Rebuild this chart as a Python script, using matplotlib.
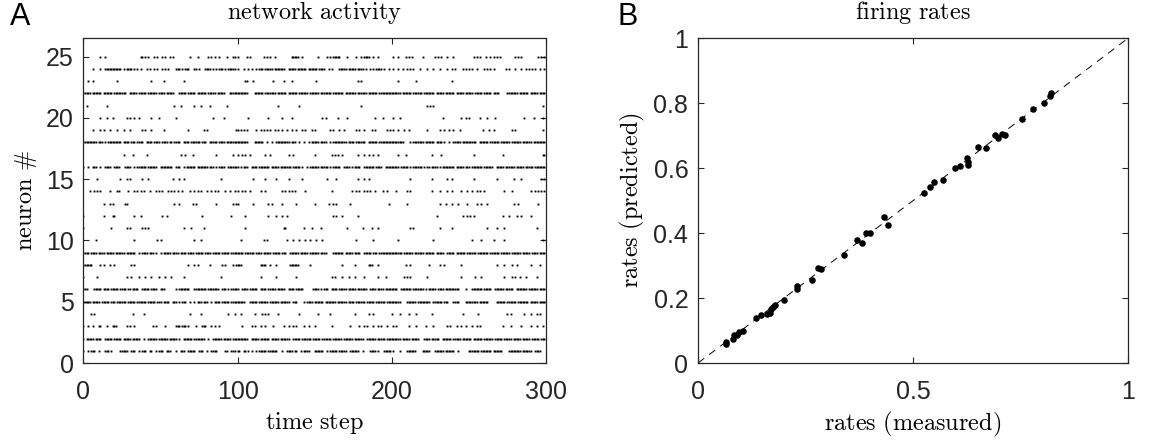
import matplotlib
matplotlib.use("Agg")
import matplotlib.pyplot as plt

plt.rcParams['mathtext.fontset'] = 'cm'
plt.rcParams['font.family'] = ['Liberation Sans', 'DejaVu Sans']
plt.rcParams['lines.scale_dashes'] = False

# ---------------- data ----------------
# spike times (time steps) for neurons 1..25, "a-b" = consecutive spikes
spikes_n01 = "0 3 5-7 10 14-16 18 24-28 31-33 36 38-40 43-44 47 49-51 54-56 60 63-65 68-72 75-77 80 83-86 92-93 96-98 100-101 104-105 107 109 112 114-118 120-125 129 132-135 137-138 141 143-146 150-155 158 160-164 166-170 173-178 181 186-189 191 195-199 201 205 210-215 220-224 228-233 235-240 243 250-256 258-264 266-271 276-283 285-290 293-296"
spikes_n02 = "0 2-6 8-11 14-18 20-24 26-30 32-36 39 42-47 49-54 56-60 62 65-70 72-78 81 84-89 91-95 97-99 100-106 109-113 115-120 122-126 128-133 136-140 142-147 149-153 155-160 162-167 169-174 176-181 184-189 191-195 197-199 200-205 207-211 213-217 221-224 226-230 233-238 240-244 246-251 253-258 260-265 267-271 273-277 279-283 285-289 291-295 297-299"
spikes_n03 = "0 3 6 10 11 15 19-21 28 30 33 45 47 53 60-62 64-66 68 73 77-79 83 85 88 103 109 111 115 118 123 130 133 136 138 143 146 150 161 173 179 182 184 188 191 193 197 201 203 211 216 222 227 236 238 242 245 248 252 255 257 272 277 284 290 294 298"
spikes_n04 = "5 7 32 39 69 76 94 98 102 111 116 118 120 126 140 152 160 176 185 188 200 205 211 216 226 246 256 275 277 286 290 294 296"
spikes_n05 = "0-4 6-10 12-16 18-20 22-27 29-33 35-40 42-46 48-50 52-55 58-60 62 64-66 69 72 74-76 78-80 83 85-88 90-94 96-99 100-104 108-112 114-119 121-126 128-133 136-138 143 145-148 150-155 157-163 165-170 172-175 177-182 184-188 190-195 197-199 200-205 210-215 217-224 227-232 234-236 240-243 248-255 257-262 268-273 275-280 282-288 290-294 296-299"
spikes_n06 = "0-2 7-11 13-16 18-22 24-27 29-30 32-35 38-42 44-47 50-52 60 62-68 72-79 81-87 90-92 94 96-99 100 103-106 108-112 115-118 120-124 126-130 133-136 138-142 149-152 154 156-158 161-164 166-170 172-176 178-183 186-189 191-194 196-199 200-203 206-212 214-220 222 224-228 230-233 235-243 248 252-258 260-264 267-272 274-278 281-287 289-294 296-299"
spikes_n07 = "0 9 28 31 36 40 44 49 53 57 65 89 115 125 138 161 163 168 172 176 182 191 196 208 210 212 223 245 254 258 273 278 280 283 287 294"
spikes_n08 = "0-5 11 13 17 20 31 33 68 72 74 82 90 92 97 99 100-102 115-118 121 125 134-139 147 168 176 185-187 191 209 212 224 231 234 245 268 273 278 281 290 296"
spikes_n09 = "0-3 5-8 10-13 15-19 21-26 28-33 36 38-41 43-45 47 50 52-56 58-61 63-66 68-71 73-77 79-82 84-88 90-94 96-99 100-103 105-110 112-115 117-121 123-127 129-131 134-139 141-145 147-152 154-157 162-168 170-174 176-179 182-186 188-190 192-199 200-206 208-213 215-220 222-227 229-233 236-240 242-247 249-254 256-262 264-269 271-276 278-283 285-289 291-294 296-299"
spikes_n10 = "8 33 48 50 72 76 102 117 119 132 136 140 144 147 151 155 177 188 204 227 252 258 266 273 298"
spikes_n11 = "0 18 28 30 38 40 42 65 70 78 105 130 131 143 148 154 171 181 187 191 212 214 231 239 262 268 273 294"
spikes_n12 = "0 13 19 20 33 37 51 54 77 96 105 120 125 129 132 162 164 168 178 229 246 249 251 253 272 276 281 284 290"
spikes_n13 = "13 17 19 27 28 59 62 71 73 86 97 99 100 110 120 122 129 138 150 159 162 164 173 198 210 231 235 239 243 249 255 258 262 279 282 295"
spikes_n14 = "4 7 9 11 17 22 23 29 33 35 37 39 43 47 49 51 55 57 59 61 64 69 72 74 76 80 83 85 87 92 95 98 100 103 105 108 115 118 129 131 133 135 137 144 161 174 177 179 182 184 186 189 194 197 203 210 212 226 231 236 239 245 249 252 255 257 260 273 278 290 293 295 297 299"
spikes_n15 = "9 24 28 30 38 42 58 62 65 89 110 118 125 133 142 158 164 178 182 185 212 226 236 239 253 268 279 284 297 299"
spikes_n16 = "0 3 6-8 11 14-17 20-23 27-30 33 35-40 42-47 50-57 60-62 65 67-72 74-80 82-84 86 88-91 94-99 100 102 104-106 109-112 114-120 122-126 128-134 136-140 142 145 147-152 154-158 160 162-166 169-172 174 176-179 182-188 190-193 196-199 200-204 206-210 212 214-219 221 223-224 226-229 231 233-240 242-246 248-250 252-258 260-265 268-272 274-279 281-285 287-291 293-299"
spikes_n17 = "26 32 41 63 66 71 86 97 100 103 105 108 118 121 133 136 150 161 163 165 168 178 182 185 188 191 204 209 226 232 253 272 298 299"
spikes_n18 = "0-8 10-12 14 16-24 26-29 31-33 35-38 41-44 46-49 51-54 56-57 59-62 65-68 70-75 77-79 82-86 88-91 93-99 100-106 111-116 119 122 125-133 135-137 140 143 146 148-152 154-157 160 162-170 172-175 177-182 185-190 192-199 200-207 212 214-220 222-227 229-232 234 237 240-244 246-254 257-262 264-269 271-276 278-283 285-290 292-299"
spikes_n19 = "6 11 13 17 22 26 30 38 40 44 52 68 78 80 99 100 102 104 106 112 115 117 119 121 124 126 129 132 135 138 142 144 148 150 160 162 166 169 177 179 182 187 189 197 199 201 204 208 211 223 231 234 237 240 244 259 263 266 278 280 298"
spikes_n20 = "11 15 19 28 30 33 36 44 49 60 84 91 107 120 129 135 155 157 165 171 189 194 201 205 233 245 248 250 257 262 267 286 292 298"
spikes_n21 = "2 15 59 63 72 76 82 93 126 140 180 223 225 227 298"
spikes_n22 = "0-4 6-11 13-18 20-27 30-34 36-40 42-47 49-52 54-58 62-66 68-72 74-79 81-85 87-91 95-99 100-106 111-116 118-124 126-131 133-138 140-145 147-152 154-160 162-168 170-176 178-183 185-190 192-199 200-205 207-212 214-219 221-227 229-233 235-240 242-246 248-252 254-258 260-264 266-269 275-281 283-288 290-294 296-299"
spikes_n23 = "3 6 22 44 52 65 105 106 110 123 130 135 151 178 180 204 216 239"
spikes_n24 = "6 11 14-24 26 28-31 33 35 37 41 43 46 48 51 53 55 60-62 64 66-68 72-73 75 79-82 84 86 88-90 92 94-98 100 104 107 109 112 114-116 118-122 124-130 133-137 139-144 146-151 153-156 159 161 166-170 172-176 178-181 183 186 188 190-193 195 198 201 204 207 210 212 214 218 223 227 231 236 239 241 246 248 250 252 255 260 262 264 266 274 276 280 284 287 289 291 293 296 299"
spikes_n25 = "11 14 37 38 40 42 46 48 51 53 56 58 69 74 81 83 85 88 93 97 98 100 106 108 117 119 121 124 135-139 142 152 158 160 162-166 171 177 180 182-185 188 191 201 204 209 211 213 220 228 230 232 236 240 253 255 257 261 264 266 268 270 280 282 284 295 297 299"

spike_rows = [spikes_n01, spikes_n02, spikes_n03, spikes_n04, spikes_n05,
              spikes_n06, spikes_n07, spikes_n08, spikes_n09, spikes_n10,
              spikes_n11, spikes_n12, spikes_n13, spikes_n14, spikes_n15,
              spikes_n16, spikes_n17, spikes_n18, spikes_n19, spikes_n20,
              spikes_n21, spikes_n22, spikes_n23, spikes_n24, spikes_n25]

rates_measured = [0.064, 0.066, 0.081, 0.084, 0.090, 0.095, 0.105, 0.135, 0.147, 0.161,
                  0.168, 0.170, 0.174, 0.179, 0.199, 0.229, 0.231, 0.264, 0.280, 0.287,
                  0.339, 0.370, 0.381, 0.390, 0.400, 0.433, 0.441, 0.526, 0.539, 0.548,
                  0.569, 0.598, 0.610, 0.626, 0.627, 0.628, 0.652, 0.669, 0.690, 0.698,
                  0.706, 0.713, 0.754, 0.780, 0.804, 0.818, 0.822]
rates_predicted = [0.066, 0.059, 0.073, 0.086, 0.086, 0.094, 0.098, 0.139, 0.149, 0.151,
                   0.155, 0.166, 0.174, 0.178, 0.194, 0.228, 0.238, 0.256, 0.294, 0.288,
                   0.333, 0.378, 0.371, 0.399, 0.400, 0.451, 0.426, 0.523, 0.541, 0.556,
                   0.564, 0.600, 0.607, 0.632, 0.618, 0.611, 0.665, 0.663, 0.701, 0.694,
                   0.706, 0.703, 0.752, 0.782, 0.801, 0.822, 0.831]

xticksA = [0, 100, 200, 300]
yticksA = [0, 5, 10, 15, 20, 25]
ticksB = [0, 0.2, 0.4, 0.6, 0.8, 1]
xticksB = [0, 0.5, 1]


def parse(s):
    out = []
    for tok in s.split():
        if '-' in tok:
            a, b = tok.split('-')
            out.extend(range(int(a), int(b) + 1))
        else:
            out.append(int(tok))
    return sorted(set(out))


# ---------------- figure ----------------
fig = plt.figure(figsize=(11.58, 4.42), dpi=100)
axA = fig.add_axes([0.0721, 0.1787, 0.3994, 0.7347])
axB = fig.add_axes([0.6028, 0.1787, 0.3713, 0.7347])

LAB = 17.5
TICK = 18

for i, s in enumerate(spike_rows):
    t = parse(s)
    axA.plot(t, [i + 1] * len(t), ls='none', marker='s', ms=1.35, mew=0, color='k')

axA.set_xlim(0, 300)
axA.set_ylim(0, 26.5)
axA.set_xticks(xticksA)
axA.set_yticks(yticksA)
axA.set_xlabel(r'$\mathrm{time\ step}$', fontsize=LAB)
axA.set_ylabel(r'$\mathrm{neuron\ \#}$', fontsize=LAB, labelpad=5)
axA.set_title(r'$\mathrm{network\ activity}$', fontsize=LAB, pad=14)

axB.plot([0, 1], [0, 1], color='k', lw=0.7, dashes=(5.5, 4.5))
axB.plot(rates_measured, rates_predicted, ls='none', marker='o', ms=3.7, color='k')
axB.set_xlim(0, 1)
axB.set_ylim(0, 1)
axB.set_xticks(xticksB)
axB.set_xticklabels(['0', '0.5', '1'])
axB.set_yticks(ticksB)
axB.set_yticklabels(['0', '0.2', '0.4', '0.6', '0.8', '1'])
axB.set_xlabel(r'$\mathrm{rates\ (measured)}$', fontsize=LAB)
axB.set_ylabel(r'$\mathrm{rates\ (predicted)}$', fontsize=LAB, labelpad=5)
axB.set_title(r'$\mathrm{firing\ rates}$', fontsize=LAB, pad=14)

# x-label anchor positions (axes fraction)
axA.xaxis.set_label_coords(0.5, (363 - 410) / 324.7)
axB.xaxis.set_label_coords(0.5, (363 - 410) / 324.7)

for ax in (axA, axB):
    ax.tick_params(direction='in', top=True, right=True, length=4, width=0.8,
                   labelsize=TICK, colors='0.15')
    ax.tick_params(axis='x', pad=12)
    ax.tick_params(axis='y', pad=7)
    for sp in ax.spines.values():
        sp.set_color('0.15')
        sp.set_linewidth(0.9)

fig.text(0.009, 0.995, 'A', fontsize=22, va='top', ha='left')
fig.text(0.533, 0.995, 'B', fontsize=22, va='top', ha='left')

fig.savefig('out.png', dpi=100)
